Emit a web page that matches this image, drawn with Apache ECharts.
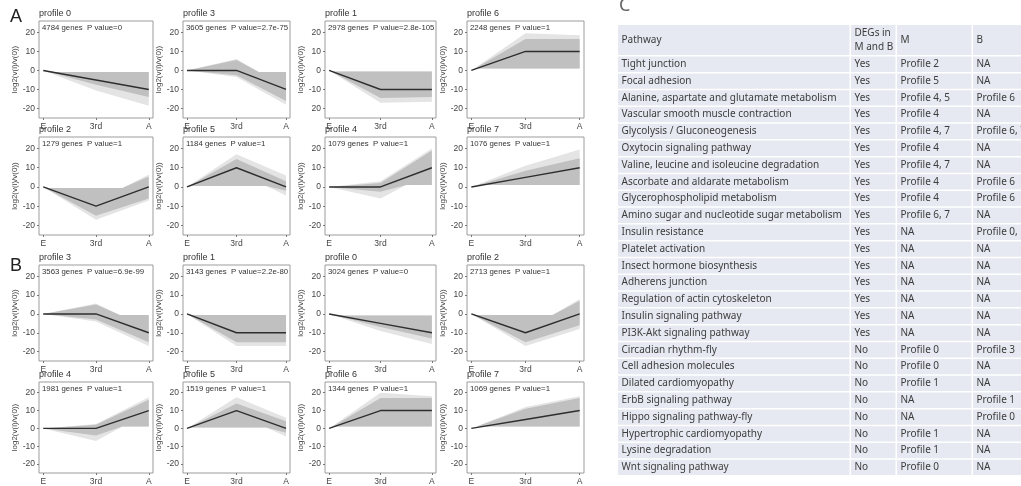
<!DOCTYPE html>
<html lang="en">
<head>
    <meta charset="UTF-8">
    <script src="https://cdn.jsdelivr.net/npm/echarts@6/dist/echarts.min.js"></script>
    <style>
        body { margin: 0; background: #fff; }
        #chart { width: 1021px; height: 486px; }
    </style>
</head>
<body>
<div id="chart"></div>

<script>
    // axis ticks
    var xTicks = ['E', '3rd', 'A']
    var yTicks = [-20, -10, 0, 10, 20]

    // panel A, left to right then second row
    var titlesA = ['profile 0', 'profile 3', 'profile 1', 'profile 6', 'profile 2', 'profile 5', 'profile 4', 'profile 7']
    var genesA = ['4784 genes  P value=0', '3605 genes  P value=2.7e-75', '2978 genes  P value=2.8e-105', '2248 genes  P value=1',
        '1279 genes  P value=1', '1184 genes  P value=1', '1079 genes  P value=1', '1076 genes  P value=1']
    var meansA = [[0, -5, -10], [0, 0, -10], [0, -10, -10], [0, 10, 10], [0, -10, 0], [0, 10, 0], [0, 0, 10], [0, 5, 10]]
    // grey area covered by most genes, [x, y] outline
    var bandsA = [
        [[0, 0], [0.2, -0.8], [2, -0.8], [2, -14], [1, -7.5]],
        [[0, 0], [1, 5.5], [1.45, -0.8], [2, -0.8], [2, -16], [1, -2.5]],
        [[0, 0], [0.1, -0.6], [2, -0.6], [2, -14], [1, -14.5]],
        [[0, 0], [1, 16.5], [2, 16.5], [2, 1], [0.1, 1]],
        [[0, 0], [0.1, -0.6], [1.5, -0.6], [2, 5.5], [2, -6], [1, -15]],
        [[0, 0], [1, 14.5], [2, 3], [2, -2], [1.6, 0.5], [0.1, 0.5]],
        [[0, 0], [1, 2], [2, 19], [2, 1], [1.5, 1], [1, -2.5]],
        [[0, 0], [1, 8.5], [2, 15], [2, 1], [0.1, 1]]
    ]
    // faint outliers around the grey area
    var halosA = [
        [[0, 0], [0.2, -0.8], [2, -0.8], [2, -18.5], [1, -10.5]],
        [[0, 0], [1, 6], [1.45, -0.8], [2, -0.8], [2, -18], [1, -3.5]],
        [[0, 0], [0.1, -0.6], [2, -0.6], [2, -16.5], [1, -17]],
        [[0, 0], [1, 19.5], [2, 18.5], [2, 1], [0.1, 1]],
        [[0, 0], [0.1, -0.6], [1.5, -0.6], [2, 6.5], [2, -7], [1, -17]],
        [[0, 0], [1, 17], [2, 6], [2, -4.5], [1.6, 0.5], [0.1, 0.5]],
        [[0, 0], [1, 3], [2, 20], [2, 1], [1.5, 1], [1, -6]],
        [[0, 0], [1, 11], [2, 19.5], [2, 1], [0.1, 1]]
    ]

    // panel B
    var titlesB = ['profile 3', 'profile 1', 'profile 0', 'profile 2', 'profile 4', 'profile 5', 'profile 6', 'profile 7']
    var genesB = ['3563 genes  P value=6.9e-99', '3143 genes  P value=2.2e-80', '3024 genes  P value=0', '2713 genes  P value=1',
        '1981 genes  P value=1', '1519 genes  P value=1', '1344 genes  P value=1', '1069 genes  P value=1']
    var meansB = [[0, 0, -10], [0, -10, -10], [0, -5, -10], [0, -10, 0], [0, 0, 10], [0, 10, 0], [0, 10, 10], [0, 5, 10]]
    var bandsB = [
        [[0, 0], [1, 5], [1.45, -0.6], [2, -0.6], [2, -15], [1, -3]],
        [[0, 0], [0.1, -0.6], [2, -0.6], [2, -15], [1, -15]],
        [[0, 0], [0.2, -0.8], [2, -0.8], [2, -13], [1, -7]],
        [[0, 0], [0.1, -0.6], [1.5, -0.6], [2, 7], [2, -6], [1, -15]],
        [[0, 0], [1, 2], [2, 16], [2, 1], [1.5, 1], [1, -4]],
        [[0, 0], [1, 14], [2, 4], [2, -2.5], [1.6, 0.5], [0.1, 0.5]],
        [[0, 0], [1, 17], [2, 17], [2, 1], [0.1, 1]],
        [[0, 0], [1, 11], [2, 17], [2, 1], [0.1, 1]]
    ]
    var halosB = [
        [[0, 0], [1, 5.5], [1.45, -0.6], [2, -0.6], [2, -17], [1, -4]],
        [[0, 0], [0.1, -0.6], [2, -0.6], [2, -17], [1, -17]],
        [[0, 0], [0.2, -0.8], [2, -0.8], [2, -16], [1, -9]],
        [[0, 0], [0.1, -0.6], [1.5, -0.6], [2, 8], [2, -8], [1, -17]],
        [[0, 0], [1, 2.5], [2, 17.5], [2, 1], [1.5, 1], [1, -7]],
        [[0, 0], [1, 17.5], [2, 6], [2, -4.5], [1.6, 0.5], [0.1, 0.5]],
        [[0, 0], [1, 20], [2, 18], [2, 1], [0.1, 1]],
        [[0, 0], [1, 12], [2, 18], [2, 1], [0.1, 1]]
    ]

    // panel C table
    var tableHead = ['Pathway', 'DEGs in\nM and B', 'M', 'B']
    var pathways = ['Tight junction', 'Focal adhesion', 'Alanine, aspartate and glutamate metabolism', 'Vascular smooth muscle contraction',
        'Glycolysis / Gluconeogenesis', 'Oxytocin signaling pathway', 'Valine, leucine and isoleucine degradation',
        'Ascorbate and aldarate metabolism', 'Glycerophospholipid metabolism', 'Amino sugar and nucleotide sugar metabolism',
        'Insulin resistance', 'Platelet activation', 'Insect hormone biosynthesis', 'Adherens junction',
        'Regulation of actin cytoskeleton', 'Insulin signaling pathway', 'PI3K-Akt signaling pathway', 'Circadian rhythm-fly',
        'Cell adhesion molecules', 'Dilated cardiomyopathy', 'ErbB signaling pathway', 'Hippo signaling pathway-fly',
        'Hypertrophic cardiomyopathy', 'Lysine degradation', 'Wnt signaling pathway']
    var degs = ['Yes', 'Yes', 'Yes', 'Yes', 'Yes', 'Yes', 'Yes', 'Yes', 'Yes', 'Yes', 'Yes', 'Yes', 'Yes', 'Yes', 'Yes', 'Yes', 'Yes',
        'No', 'No', 'No', 'No', 'No', 'No', 'No', 'No']
    var inM = ['Profile 2', 'Profile 5', 'Profile 4, 5', 'Profile 4', 'Profile 4, 7', 'Profile 4', 'Profile 4, 7', 'Profile 4', 'Profile 4',
        'Profile 6, 7', 'NA', 'NA', 'NA', 'NA', 'NA', 'NA', 'NA', 'Profile 0', 'Profile 0', 'Profile 1', 'NA', 'NA', 'Profile 1',
        'Profile 1', 'Profile 0']
    var inB = ['NA', 'NA', 'Profile 6', 'NA', 'Profile 6, 7', 'NA', 'NA', 'Profile 6', 'Profile 6', 'NA', 'Profile 0, 1', 'NA', 'NA',
        'NA', 'NA', 'NA', 'NA', 'Profile 3', 'NA', 'NA', 'Profile 1', 'Profile 0', 'NA', 'NA', 'NA']

    // layout of the small plots
    var colLeft = [39, 183, 325, 467]
    var colWidth = [114, 107, 111, 117]
    var rowTop = [21, 137, 265, 382]
    var rowHeight = [97, 98, 96, 96]
    var font = 'Liberation Sans, Arial, sans-serif'

    var grids = [], xAxes = [], yAxes = [], titles = [], series = []

    function polygonSeries(idx, pts, color) {
        return {
            type: 'custom', xAxisIndex: idx, yAxisIndex: idx, silent: true,
            data: [[0, 0]],
            renderItem: function (params, api) {
                return {
                    type: 'polygon',
                    shape: { points: pts.map(function (p) { return api.coord(p) }) },
                    style: { fill: color }
                }
            }
        }
    }

    for (var i = 0; i < 16; i++) {
        var isA = i < 8, k = i % 8
        var row = Math.floor(i / 4), col = i % 4
        var gx = colLeft[col], gy = rowTop[row]
        // the original prints "20" instead of "-20" on A / profile 1
        var typo = (i === 2)
        grids.push({
            left: gx, top: gy, width: colWidth[col], height: rowHeight[row],
            show: true, borderColor: '#9c9c9c', borderWidth: 1
        })
        xAxes.push({
            gridIndex: i, type: 'value', min: -0.08, max: 2.08,
            axisLine: { show: false, onZero: false },
            axisTick: { show: true, customValues: [0, 1, 2], length: 2, lineStyle: { color: '#777' } },
            axisLabel: {
                customValues: [0, 1, 2], margin: 4, fontSize: 8.5, color: '#444', fontFamily: font,
                formatter: function (v) { return xTicks[Math.round(v)] }
            },
            splitLine: { show: false }
        })
        var yLabel = {
            customValues: yTicks, margin: 4, fontSize: 8.5, color: '#444', fontFamily: font
        }
        if (typo) yLabel.formatter = function (v) { return v === -20 ? '20' : String(v) }
        yAxes.push({
            gridIndex: i, type: 'value', min: -25, max: 26,
            name: 'log2(v(i)/v(0))', nameLocation: 'middle', nameGap: 11,
            nameTextStyle: { fontSize: 8, color: '#444', fontFamily: font },
            axisLine: { show: false, onZero: false },
            axisTick: { show: true, customValues: yTicks, length: 2, lineStyle: { color: '#777' } },
            axisLabel: yLabel,
            splitLine: { show: false }
        })
        titles.push({
            text: (isA ? titlesA : titlesB)[k], left: gx, top: gy - 12, padding: 0,
            textStyle: { fontSize: 9, fontWeight: 'normal', color: '#333', fontFamily: font }
        })
        titles.push({
            text: (isA ? genesA : genesB)[k], left: gx + 3, top: gy + 3, padding: 0,
            textStyle: { fontSize: 7.8, fontWeight: 'normal', color: '#333', fontFamily: font }
        })
        series.push(polygonSeries(i, (isA ? halosA : halosB)[k], '#e4e4e4'))
        series.push(polygonSeries(i, (isA ? bandsA : bandsB)[k], '#c0c0c0'))
        var m = (isA ? meansA : meansB)[k]
        series.push({
            type: 'line', xAxisIndex: i, yAxisIndex: i, silent: true, showSymbol: false,
            data: m.map(function (v, j) { return [j, v] }),
            lineStyle: { color: '#2e2e2e', width: 1.4 }
        })
    }

    titles.push({ text: 'A', left: 10, top: 8, padding: 0, textStyle: { fontSize: 18, fontWeight: 'normal', color: '#222', fontFamily: font } })
    titles.push({ text: 'B', left: 10, top: 257, padding: 0, textStyle: { fontSize: 18, fontWeight: 'normal', color: '#222', fontFamily: font } })

    // table C, drawn with graphic elements
    var tFont = 'Noto Sans, Open Sans, sans-serif'
    var colX = [618, 851, 897, 973, 1060]
    var headTop = 25, headH = 31.6, rowH = 16.8
    var graphics = [{
        type: 'text', x: 619, y: -3,
        style: { text: 'C', fontSize: 18, fill: '#666', fontFamily: tFont }
    }]
    function cell(cx, cy, w, h, txt) {
        graphics.push({ type: 'rect', shape: { x: cx, y: cy, width: w - 1.5, height: h - 1.5 }, style: { fill: '#e6e9f1' }, silent: true })
        graphics.push({
            type: 'text', x: cx + 3.5, y: cy + (h - 1.5) / 2,
            style: { text: txt, fontSize: 10, fill: '#3c3c3c', fontFamily: tFont, verticalAlign: 'middle', lineHeight: 14 }
        })
    }
    for (var c = 0; c < 4; c++) cell(colX[c], headTop, colX[c + 1] - colX[c], headH, tableHead[c])
    var cols = [pathways, degs, inM, inB]
    for (var r = 0; r < pathways.length; r++) {
        var ry = headTop + headH + r * rowH
        for (var c2 = 0; c2 < 4; c2++) cell(colX[c2], ry, colX[c2 + 1] - colX[c2], rowH, cols[c2][r])
    }

    var chart = echarts.init(document.getElementById('chart'))
    chart.setOption({
        animation: false,
        backgroundColor: '#fff',
        title: titles,
        grid: grids,
        xAxis: xAxes,
        yAxis: yAxes,
        series: series,
        graphic: graphics
    })
</script>
</body>
</html>
